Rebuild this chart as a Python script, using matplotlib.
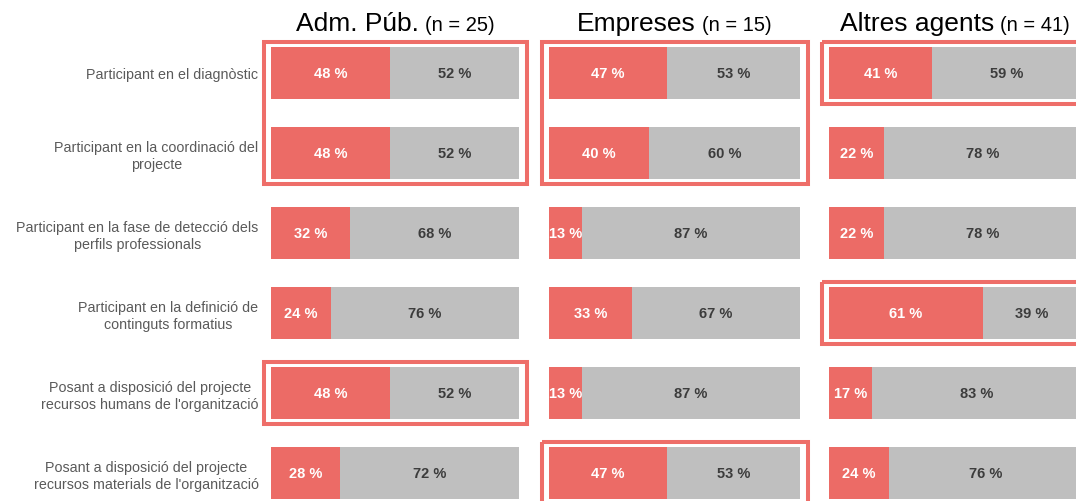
import matplotlib
matplotlib.use("Agg")
import matplotlib.pyplot as plt
from matplotlib.patches import Rectangle

plt.rcParams["font.family"] = ["Liberation Sans", "DejaVu Sans"]

categories = [
    "Participant en el diagnòstic",
    "Participant en la coordinació del\nprojecte",
    "Participant en la fase de detecció dels\nperfils professionals",
    "Participant en la definició de\ncontinguts formatius",
    "Posant a disposició del projecte\nrecursos humans de l'organització",
    "Posant a disposició del projecte\nrecursos materials de l'organització",
]
groups   = ["Adm. Púb.", "Empreses", "Altres agents"]
group_n  = ["(n = 25)", "(n = 15)", "(n = 41)"]

adm_yes = [48, 48, 32, 24, 48, 28]
adm_no  = [52, 52, 68, 76, 52, 72]
emp_yes = [47, 40, 13, 33, 13, 47]
emp_no  = [53, 60, 87, 67, 87, 53]
alt_yes = [41, 22, 22, 61, 17, 24]
alt_no  = [59, 78, 78, 39, 83, 76]

# highlighted row ranges (first, last) per panel
adm_boxes = [(0, 1), (4, 4)]
emp_boxes = [(0, 1), (5, 5)]
alt_boxes = [(0, 0), (3, 3)]

RED  = "#EC6B66"
GRAY = "#BFBFBF"
BOX  = "#EE6E69"

W, H = 1076, 502
fig = plt.figure(figsize=(W / 100, H / 100), dpi=100)

# axes placement in pixels: (left, width)
panels_px = [(271, 248), (549, 251), (829, 252)]
top_px, bot_px = 34, 514
bar_h = 0.65

panel_data = [(adm_yes, adm_no, adm_boxes),
              (emp_yes, emp_no, emp_boxes),
              (alt_yes, alt_no, alt_boxes)]

renderer = fig.canvas.get_renderer()
axes = []
for i, ((x0, w), (yes, no, boxes)) in enumerate(zip(panels_px, panel_data)):
    ax = fig.add_axes([x0 / W, (H - bot_px) / H, w / W, (bot_px - top_px) / H])
    axes.append(ax)
    y = list(range(len(categories)))
    ax.barh(y, yes, height=bar_h, color=RED, edgecolor="none")
    ax.barh(y, no, left=yes, height=bar_h, color=GRAY, edgecolor="none")
    for yi, a, b in zip(y, yes, no):
        ax.text(a / 2, yi, f"{a} %", ha="center", va="center", color="white",
                fontsize=10.5, fontweight="bold")
        ax.text(a + b / 2, yi, f"{b} %", ha="center", va="center", color="#3C3C3C",
                fontsize=10.5, fontweight="bold")
    ax.set_xlim(0, 100)
    ax.set_ylim(5.5, -0.5)
    for s in ax.spines.values():
        s.set_visible(False)
    ax.set_xticks([])
    ax.tick_params(axis="y", length=0, pad=9)
    if i == 0:
        ax.set_yticks(y)
        ax.set_yticklabels(categories, fontsize=10.3, color="#5A5A5A")
        for lab in ax.get_yticklabels():
            lab.set_multialignment("center")
    else:
        ax.set_yticks([])

    # highlight boxes
    px_x = 100 / w
    pad_x = 7.5 * px_x
    pad_y = 5 / 80
    for r0, r1 in boxes:
        ax.add_patch(Rectangle((-pad_x, r0 - bar_h / 2 - pad_y),
                               100 + 2 * pad_x, (r1 - r0) + bar_h + 2 * pad_y,
                               fill=False, edgecolor=BOX, lw=2.9, clip_on=False))

    # title: big group name + smaller n
    t1 = fig.text(0, 1 - 31.5 / H, groups[i], fontsize=19, color="black",
                  ha="left", va="baseline")
    t2 = fig.text(0, 1 - 31.5 / H, group_n[i], fontsize=14.5, color="black",
                  ha="left", va="baseline")
    w1 = t1.get_window_extent(renderer).width
    w2 = t2.get_window_extent(renderer).width
    gap = 6
    start = (x0 + w / 2) - (w1 + gap + w2) / 2
    t1.set_x(start / W)
    t2.set_x((start + w1 + gap) / W)

fig.savefig("out.png", dpi=100)
